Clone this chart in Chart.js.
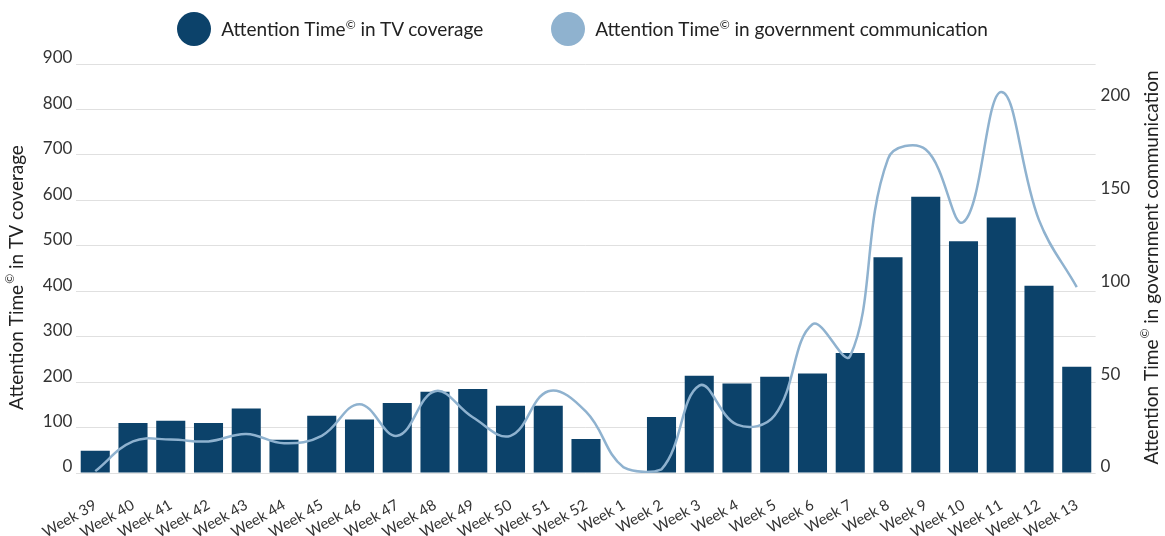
<!DOCTYPE html>
<html>
<head>
<meta charset="utf-8">
<script src="https://cdn.jsdelivr.net/npm/chart.js@4/dist/chart.umd.min.js"></script>
<style>
  body { margin: 0; background: #fff; }
  #wrap { position: relative; width: 1165px; height: 536px; }
  #chartLegend { position: absolute; top: 12px; left: 0; width: 1165px; display: flex; justify-content: center; gap: 68px; font-family: Lato, sans-serif; font-size: 19px; color: #222; }
  .item { display: flex; align-items: center; }
  .dot { width: 34px; height: 34px; border-radius: 50%; margin-right: 10px; }
  sup { font-size: 12px; }
</style>
</head>
<body>
<div id="wrap">
  <canvas id="weeklyChart" width="1165" height="536"></canvas>
  <div id="chartLegend"></div>
</div>
<script>
const weeks = ['Week 39', 'Week 40', 'Week 41', 'Week 42', 'Week 43', 'Week 44', 'Week 45', 'Week 46', 'Week 47',
  'Week 48', 'Week 49', 'Week 50', 'Week 51', 'Week 52', 'Week 1', 'Week 2', 'Week 3', 'Week 4', 'Week 5',
  'Week 6', 'Week 7', 'Week 8', 'Week 9', 'Week 10', 'Week 11', 'Week 12', 'Week 13'];
const tvCoverage = [49, 110, 115, 110, 142, 73, 126, 118, 154, 179, 185, 148, 148, 75, 0, 123, 214, 197, 212, 219, 264, 475, 608, 510, 562, 412, 234];
const govCommunication = [1, 17, 18, 17, 21, 16, 20, 37, 20, 44, 30, 20, 44, 33, 3, 2, 47, 26, 31, 80, 63, 169, 174, 135, 205, 136, 100];
const leftTicks = [0, 100, 200, 300, 400, 500, 600, 700, 800, 900];
const rightTicks = [0, 50, 100, 150, 200];

const darkBlue = '#0c426a';
const lightBlue = '#8fb2cf';
const font = 'Lato, sans-serif';
const titleLeft = ['Attention Time', '©', ' in TV coverage'];
const titleRight = ['Attention Time', '©', ' in government communication'];

// legenda em HTML para poder usar o © em expoente
document.getElementById('chartLegend').innerHTML = `
  <div class="item"><div class="dot" style="background:${darkBlue}"></div><span>Attention Time<sup>©</sup> in TV coverage</span></div>
  <div class="item"><div class="dot" style="background:${lightBlue}"></div><span>Attention Time<sup>©</sup> in government communication</span></div>
`;

// desenha um título rodado (de baixo para cima) com o © em expoente
function drawRotatedTitle(ctx, x, y, parts) {
  const big = `19px ${font}`;
  const small = `12px ${font}`;
  ctx.save();
  ctx.translate(x, y);
  ctx.rotate(-Math.PI / 2);
  ctx.fillStyle = '#222';
  ctx.textBaseline = 'middle';
  ctx.textAlign = 'left';
  ctx.font = big;
  const w0 = ctx.measureText(parts[0]).width;
  const w2 = ctx.measureText(parts[2]).width;
  ctx.font = small;
  const w1 = ctx.measureText(parts[1]).width + 1;
  let pos = -(w0 + w1 + w2) / 2;
  ctx.font = big;
  ctx.fillText(parts[0], pos, 0);
  pos += w0;
  ctx.font = small;
  ctx.fillText(parts[1], pos + 1, -6);
  pos += w1;
  ctx.font = big;
  ctx.fillText(parts[2], pos, 0);
  ctx.restore();
}

const axisTitles = {
  id: 'axisTitles',
  afterDraw(chart) {
    const { ctx, chartArea, scales } = chart;
    const mid = (chartArea.top + chartArea.bottom) / 2;
    drawRotatedTitle(ctx, scales.y.left + 5 + 11.4, mid + 9, titleLeft);
    drawRotatedTitle(ctx, scales.y1.right - 2 - 11.4, mid - 1, titleRight);
  }
};

const ctx = document.getElementById('weeklyChart').getContext('2d');
new Chart(ctx, {
  type: 'bar',
  data: {
    labels: weeks,
    datasets: [{
      type: 'line',
      label: 'Attention Time© in government communication',
      data: govCommunication,
      yAxisID: 'y1',
      borderColor: lightBlue,
      borderWidth: 2.5,
      pointRadius: 0,
      tension: 0.4,
      fill: false,
      order: 0
    }, {
      label: 'Attention Time© in TV coverage',
      data: tvCoverage,
      yAxisID: 'y',
      backgroundColor: darkBlue,
      barPercentage: 0.77,
      categoryPercentage: 1,
      order: 1
    }]
  },
  plugins: [axisTitles],
  options: {
    responsive: false,
    animation: false,
    layout: { padding: { top: 64, left: 0, right: 0, bottom: 0 } },
    plugins: { legend: { display: false }, tooltip: { enabled: false } },
    scales: {
      x: {
        afterFit: axis => { axis.height = 63; },
        grid: { display: false, drawTicks: false },
        border: { display: false },
        ticks: { autoSkip: false, minRotation: 30, maxRotation: 30, padding: 23, color: '#333', font: { family: font, size: 15 } }
      },
      y: {
        position: 'left',
        min: 0,
        max: 900,
        afterBuildTicks: axis => { axis.ticks = leftTicks.map(v => ({ value: v })); },
        grid: { color: '#e0e0e0', drawTicks: false },
        border: { display: false },
        ticks: { color: '#333', labelOffset: -6, padding: 4, font: { family: font, size: 17 } },
        // espaço reservado; o texto é desenhado pelo plugin
        title: { display: true, text: 'Attention Time© in TV coverage', color: 'rgba(0,0,0,0)', padding: { top: 6, bottom: 10 }, font: { family: font, size: 19 } }
      },
      y1: {
        position: 'right',
        min: 0,
        max: 220,
        afterBuildTicks: axis => { axis.ticks = rightTicks.map(v => ({ value: v })); },
        grid: { display: false, drawTicks: false },
        border: { display: false },
        ticks: { color: '#333', labelOffset: -6, padding: 5, font: { family: font, size: 17 } },
        title: { display: true, text: 'Attention Time© in government communication', color: 'rgba(0,0,0,0)', padding: { top: 2, bottom: 5 }, font: { family: font, size: 19 } }
      }
    }
  }
});
</script>
</body>
</html>
